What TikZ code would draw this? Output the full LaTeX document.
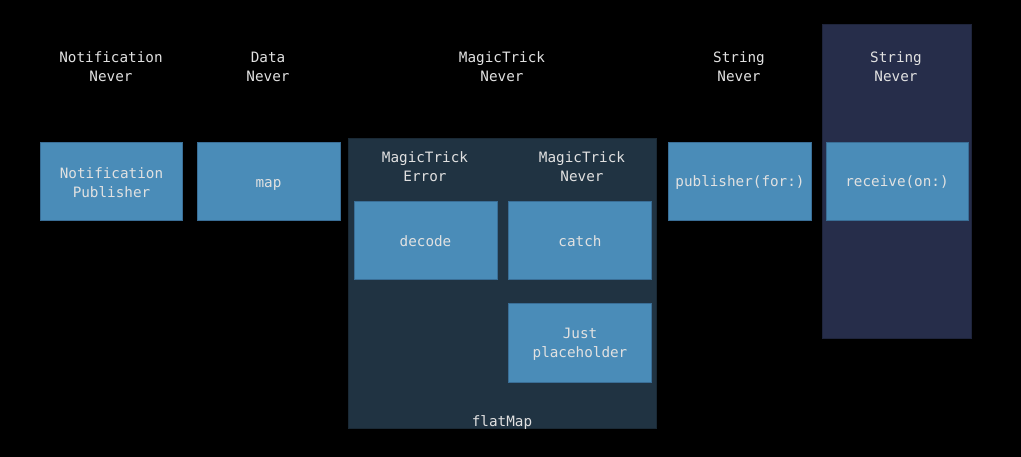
\documentclass[tikz,border=0pt]{standalone}
\usepackage{fontspec}
\setmonofont{DejaVu Sans Mono}
\definecolor{bg}{RGB}{0,0,0}
\definecolor{boxfill}{RGB}{74,140,184}
\definecolor{boxline}{RGB}{58,110,150}
\definecolor{flatfill}{RGB}{32,51,66}
\definecolor{recvfill}{RGB}{38,45,74}
\definecolor{txt}{RGB}{225,225,225}
\tikzset{
  opbox/.style={draw=boxline, line width=0.8pt, fill=boxfill, inner sep=0pt},
  lbl/.style={text=txt, align=center, font=\ttfamily\fontsize{14.3}{19}\selectfont, inner sep=0pt},
}
\begin{document}
\begin{tikzpicture}[x=1pt,y=-1pt]
\useasboundingbox (0,0) rectangle (1021,457);
\fill[bg] (0,0) rectangle (1021,457);
% containers
\path[fill=flatfill, draw=flatfill!80!black] (348.5,138.5) rectangle (656.5,428.5);
\path[fill=recvfill, draw=recvfill!80!black] (822.5,24) rectangle (971,338.5);
% boxes
\draw[opbox] (40,142.5) rectangle (182.5,220) node[midway] (np) {};
\draw[opbox] (197,142.5) rectangle (340,220) node[midway] (mp) {};
\draw[opbox] (354,201) rectangle (497,279) node[midway] (dc) {};
\draw[opbox] (508.5,201) rectangle (651.5,279) node[midway] (ct) {};
\draw[opbox] (508.5,303.5) rectangle (651.5,382) node[midway] (js) {};
\draw[opbox] (668.5,142.5) rectangle (811,220.5) node[midway] (pf) {};
\draw[opbox] (826,142.5) rectangle (968.5,220.5) node[midway] (rc) {};
% box texts
\node[lbl] at (111.5,183) {Notification\\Publisher};
\node[lbl] at (268.5,184.5) {map};
\node[lbl] at (425.5,241.5) {decode};
\node[lbl] at (580,241.5) {catch};
\node[lbl] at (580,344.5) {Just\\placeholder};
\node[lbl] at (740,182.5) {publisher(for:)};
\node[lbl] at (897,182.5) {receive(on:)};
\node[lbl] at (502,422.5) {flatMap};
% type labels
\node[lbl] (t1) at (111,66.5) {Notification\\Never};
\node[lbl] (t2) at (268,66.5) {Data\\Never};
\node[lbl] (t3) at (502,66.5) {MagicTrick\\Never};
\node[lbl] (t4) at (739,66.5) {String\\Never};
\node[lbl] (t5) at (896,66.5) {String\\Never};
\node[lbl] (t6) at (425,166.5) {MagicTrick\\Error};
\node[lbl] (t7) at (582,166.5) {MagicTrick\\Never};
\end{tikzpicture}
\end{document}
